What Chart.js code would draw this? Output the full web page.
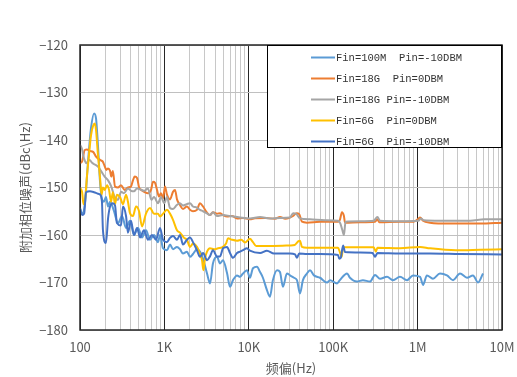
<!DOCTYPE html>
<html>
<head>
<meta charset="utf-8">
<script src="https://cdn.jsdelivr.net/npm/chart.js@4/dist/chart.umd.min.js"></script>
<style>
  html, body { margin: 0; padding: 0; background: #fff; }
  #wrap { width: 517px; height: 377px; position: relative; }
</style>
</head>
<body>
<div id="wrap"><canvas id="pnChart"></canvas></div>
<script>
// series labels (legend order) and colours
const seriesLabels = ['Fin=100M  Pin=-10DBM', 'Fin=18G  Pin=0DBM', 'Fin=18G Pin=-10DBM', 'Fin=6G  Pin=0DBM', 'Fin=6G  Pin=-10DBM'];
const seriesColors = ['#5B9BD5', '#ED7D31', '#A5A5A5', '#FFC000', '#4472C4'];

// axis ticks
const xTickValues = [100, 1000, 10000, 100000, 1000000, 10000000];
const xTickLabels = ['100', '1K', '10K', '100K', '1M', '10M'];
const yTicks = [-180, -170, -160, -150, -140, -130, -120];

// Fin=100M Pin=-10dBm
const freq100M = [100,106,115,124,135,147,155,163,173,182,192,203,215,227,253,282,315,351,391,436,487,543,605,675,753,840,887,963,1073,1165,1265,1410,1530,1660,1850,2010,2180,2430,2640,2870,3200,3470,3760,4200,4560,4950,5520,5990,6500,7250,7870,8540,9520,10300,11200,12500,13600,14700,16400,17800,19300,21600,23400,25400,28300,30800,34300,37200,40400,43800,48900,53100,59200,69800,84400,91700,111000,120000,146000,158000,191000,225000,273000,313000,359000,434000,511000,618000,749000,882000,1070000,1160000,1290000,1520000,1840000,2230000,2630000,3180000,3850000,4530000,5200000,5960000];
const pn100M = [-154.3,-155.5,-153,-145,-137.5,-134.4,-135.5,-141,-149,-152.5,-153,-152,-154,-153,-155,-157.5,-156,-158.5,-157,-160,-158.5,-160.5,-159,-161,-160,-161.5,-160,-162.8,-163.2,-162,-163,-162.5,-163,-163.9,-163.5,-164.6,-164,-163,-163.5,-165,-168.1,-170.2,-166,-164.6,-166,-165.3,-168,-170.9,-169.5,-168.5,-168.8,-168.1,-167.4,-169,-167,-166.7,-167.8,-169,-171.6,-173,-169.5,-167.4,-167.8,-170.9,-168.1,-168.5,-169,-169.5,-172.3,-169.5,-168.1,-167.4,-168.5,-169,-170,-169.5,-170.2,-169.5,-168.1,-169,-169.8,-169.5,-169.8,-168.4,-169.2,-168.8,-169.5,-168.8,-169.5,-168.5,-168.8,-170.5,-168.5,-169.2,-168.1,-168.5,-169.5,-168.1,-169,-168.5,-170,-168.1];

// Fin=18G Pin=0dBm
const freq18G0 = [100,106,114,121,131,143,155,163,177,187,197,205,215,227,235,245,260,282,306,338,370,402,424,445,474,501,532,589,639,694,734,774,817,862,911,963,1016,1073,1165,1265,1336,1410,1530,1660,1850,2010,2180,2430,2640,2870,3200,3470,3760,4200,4560,4950,5520,6320,7250,8540,10300,11800,15600,20400,23400,27100,33500,36800,39500,42600,48900,69800,114000,120000,127000,134000,138000,208000,313000,334000,350000,618000,900000,1020000,1070000,1160000,1400000,2420000,5500000,10000000];
const pn18G0 = [-144.9,-144.5,-142.1,-142,-142.3,-142.5,-143.5,-143.9,-144.3,-144.6,-145.6,-146.3,-146,-146.5,-147.7,-146.5,-149.8,-150,-149.5,-150.5,-150,-149.8,-148.5,-147.7,-148,-150,-150.5,-151,-151.2,-150.5,-148.8,-149,-150.5,-151.9,-151.2,-152.3,-149.8,-151.5,-152.5,-150.9,-150.5,-152.5,-153.7,-154.5,-154,-154.7,-155,-154.7,-153.3,-154,-155.3,-155.8,-155.2,-155.5,-155.4,-155.8,-156.1,-156,-156.5,-156.4,-156.7,-156.5,-156.4,-156.6,-156.2,-156.6,-156,-155.4,-155.6,-157.2,-157.4,-157.2,-157.2,-156.8,-155.2,-156,-157.4,-157.3,-157.2,-156.7,-157.3,-157.2,-157.2,-156.6,-156.3,-157,-157.4,-157.6,-157.6,-157.4];

// Fin=18G Pin=-10dBm
const freq18Gm10 = [100,106,109,115,119,124,130,139,151,163,177,196,215,235,256,282,307,332,370,402,436,474,532,573,639,700,753,840,911,1000,1073,1165,1265,1400,1530,1660,1840,2010,2180,2400,2640,2870,3150,3470,3760,4200,4950,5990,7870,10300,13600,17800,23400,30800,33500,36200,40400,53100,80000,114000,121000,128000,134000,140000,208000,302000,334000,359000,618000,1020000,1100000,1180000,1840000,4180000,6200000,10000000];
const pn18Gm10 = [-141,-142,-143.2,-144.5,-144.9,-144.5,-144.2,-144.8,-145.2,-145.6,-146.5,-147.7,-148.5,-149.8,-151.9,-152.6,-150.9,-151.2,-150.2,-150.7,-150.8,-150.2,-150.5,-150.7,-150.2,-152.6,-152,-153.3,-152,-153.3,-152,-154.3,-154.5,-153.7,-153.3,-153.8,-153.5,-153.3,-154,-154.2,-154.7,-155,-155.4,-155.8,-155.2,-156,-155.8,-156,-156.3,-156.5,-156.2,-156.5,-156.4,-156.3,-155.4,-155.5,-156.5,-156.7,-156.9,-157,-157.5,-158.9,-160,-157.2,-157.1,-157,-156.2,-157,-157.1,-157,-156.5,-156.9,-157,-157,-156.7,-156.7];

// Fin=6G Pin=0dBm
const freq6G0 = [100,106,110,115,121,128,135,143,150,155,163,173,180,187,197,209,221,233,245,260,274,298,323,351,370,391,424,461,501,543,605,675,753,840,887,963,1073,1165,1265,1410,1530,1710,1850,2010,2180,2430,2640,2790,2900,3020,3200,3470,3870,4320,4820,5380,5670,6320,7250,8170,9000,10300,11200,12200,13600,19300,30800,35000,38800,40400,42600,48900,69800,114000,120000,126000,131000,208000,302000,320000,334000,618000,1070000,1400000,2850000,5500000,10000000];
const pn6G0 = [-150,-151,-153.5,-152.5,-147.5,-143,-139,-137,-136.5,-138,-143,-148,-151.5,-150,-150.5,-149.5,-150.5,-153,-151,-153.5,-151.5,-152,-153.5,-151.5,-153,-155.4,-156,-154,-155,-158.2,-155.5,-154.3,-155.5,-155.5,-156.1,-155.5,-154.7,-155.5,-156.8,-159,-159.5,-160.6,-161,-162.5,-161.8,-162.5,-164,-165.3,-167.4,-165,-163.5,-162.8,-163,-162.8,-162.6,-161.8,-160.7,-161,-161.2,-161,-161.6,-160.8,-161.5,-162.3,-162.3,-162.3,-162.2,-162.1,-161.3,-161.2,-162.5,-162.7,-162.7,-162.7,-163.6,-164.6,-162.6,-162.6,-162.6,-163.5,-162.7,-162.8,-162.5,-162.8,-163.2,-163.1,-163];

// Fin=6G Pin=-10dBm
const freq6Gm10 = [100,106,112,118,131,147,163,173,182,187,203,215,227,245,260,274,306,323,351,370,402,436,474,514,573,639,713,795,887,963,1073,1165,1265,1410,1530,1660,1850,2010,2180,2430,2640,2870,3200,3470,3760,4200,4560,4950,5520,5990,6500,7250,7870,8540,9520,10300,13600,16400,19900,30800,35300,37200,39500,48900,69800,114000,118000,123000,131000,138000,208000,293000,313000,334000,618000,1400000,3180000,10000000];
const pn6Gm10 = [-154.5,-155.8,-155.5,-151,-150.8,-151,-151.3,-151.5,-153,-159,-161.7,-156.5,-154,-153.3,-153.8,-157.5,-158,-154,-156,-159.5,-157,-160,-158.5,-160.5,-159,-161,-160,-161,-158.5,-161,-161.5,-160.6,-160.2,-161,-160,-162,-161,-160.5,-161.5,-163.2,-164.6,-163.8,-165.3,-164.5,-163.2,-164.5,-164.5,-162.8,-162.5,-163.8,-164.8,-163.8,-163.5,-163.2,-162.8,-163.3,-163.8,-163.3,-163.9,-163.9,-164.1,-164.8,-163.9,-164,-164,-164.2,-165,-164.8,-162.2,-163.6,-163.7,-163.8,-164.6,-163.8,-163.9,-163.9,-164,-164.1];

const freqs = [freq100M, freq18G0, freq18Gm10, freq6G0, freq6Gm10];
const values = [pn100M, pn18G0, pn18Gm10, pn6G0, pn6Gm10];

const isDecade = v => Math.abs(Math.log10(v) - Math.round(Math.log10(v))) < 1e-9;

// plot frame + boxed legend inside the plot area (top right)
const frameAndLegend = {
  id: 'frameAndLegend',
  afterDraw(chart) {
    const { ctx, chartArea: a } = chart;
    ctx.save();
    ctx.strokeStyle = '#262626';
    ctx.lineWidth = 1.5;
    ctx.strokeRect(a.left, a.top, a.right - a.left, a.bottom - a.top);

    const w = 235, h = 103;
    const x0 = a.right - w, y0 = a.top;
    ctx.fillStyle = '#fff';
    ctx.fillRect(x0, y0, w, h);
    ctx.strokeStyle = '#000';
    ctx.lineWidth = 1;
    ctx.strokeRect(x0 + 0.5, y0 + 0.5, w - 1, h - 1);

    ctx.font = "10.5px 'Liberation Mono', 'DejaVu Sans Mono', monospace";
    ctx.textBaseline = 'middle';
    ctx.textAlign = 'left';
    chart.data.datasets.forEach((ds, i) => {
      const y = y0 + 12.5 + i * 21;
      ctx.strokeStyle = ds.borderColor;
      ctx.lineWidth = 2;
      ctx.beginPath();
      ctx.moveTo(x0 + 44, y);
      ctx.lineTo(x0 + 68, y);
      ctx.stroke();
      ctx.fillStyle = '#333';
      ctx.fillText(ds.label, x0 + 69, y + 0.5);
    });
    ctx.restore();
  }
};

Chart.defaults.font.family = "'Noto Sans CJK SC', 'Noto Sans', sans-serif";
Chart.defaults.font.size = 13;
Chart.defaults.color = '#595959';

const ctx = document.getElementById('pnChart').getContext('2d');
const pnChart = new Chart(ctx, {
  type: 'line',
  data: {
    datasets: seriesLabels.map((label, i) => ({
      label: label,
      data: freqs[i].map((f, j) => ({ x: f, y: values[i][j] })),
      borderColor: seriesColors[i],
      backgroundColor: seriesColors[i],
      borderWidth: 2,
      pointRadius: 0,
      cubicInterpolationMode: 'monotone',
      fill: false,
      order: seriesLabels.length - i
    }))
  },
  options: {
    responsive: true,
    maintainAspectRatio: false,
    animation: false,
    layout: { padding: { top: 45, right: 15, left: 0, bottom: 0 } },
    plugins: {
      legend: { display: false },
      tooltip: { enabled: false }
    },
    scales: {
      x: {
        type: 'logarithmic',
        min: 100,
        max: 10000000,
        afterBuildTicks: scale => {
          const t = [];
          for (let e = 2; e < 7; e++) {
            for (let m = 1; m < 10; m++) t.push({ value: m * Math.pow(10, e) });
          }
          t.push({ value: 10000000 });
          scale.ticks = t;
        },
        afterFit: scale => {
          scale.height = 47;
          scale.paddingLeft = 0;
          scale.paddingRight = 0;
        },
        ticks: {
          autoSkip: false,
          maxRotation: 0,
          padding: 9,
          callback: v => {
            const k = xTickValues.findIndex(t => Math.abs(t - v) < 1e-6);
            return k >= 0 ? xTickLabels[k] : '';
          }
        },
        grid: {
          drawTicks: false,
          color: c => (c.tick && isDecade(c.tick.value)) ? '#262626' : '#c8c8c8',
          lineWidth: 1
        },
        border: { display: false },
        title: {
          display: true,
          text: '频偏(Hz)',
          font: { size: 13 },
          padding: { top: 0, bottom: 1 }
        }
      },
      y: {
        min: -180,
        max: -120,
        afterBuildTicks: scale => { scale.ticks = yTicks.map(v => ({ value: v })); },
        afterFit: scale => {
          scale.width = 80;
          scale.paddingTop = 0;
          scale.paddingBottom = 0;
        },
        ticks: {
          padding: 12,
          callback: v => String(v).replace('-', '\u2212')
        },
        grid: { drawTicks: false, color: '#c0c0c0', lineWidth: 1 },
        border: { display: false },
        title: {
          display: true,
          text: '附加相位噪声(dBc\\Hz)',
          font: { size: 13 },
          padding: { top: 17, bottom: 0 }
        }
      }
    }
  },
  plugins: [frameAndLegend]
});
</script>
</body>
</html>
